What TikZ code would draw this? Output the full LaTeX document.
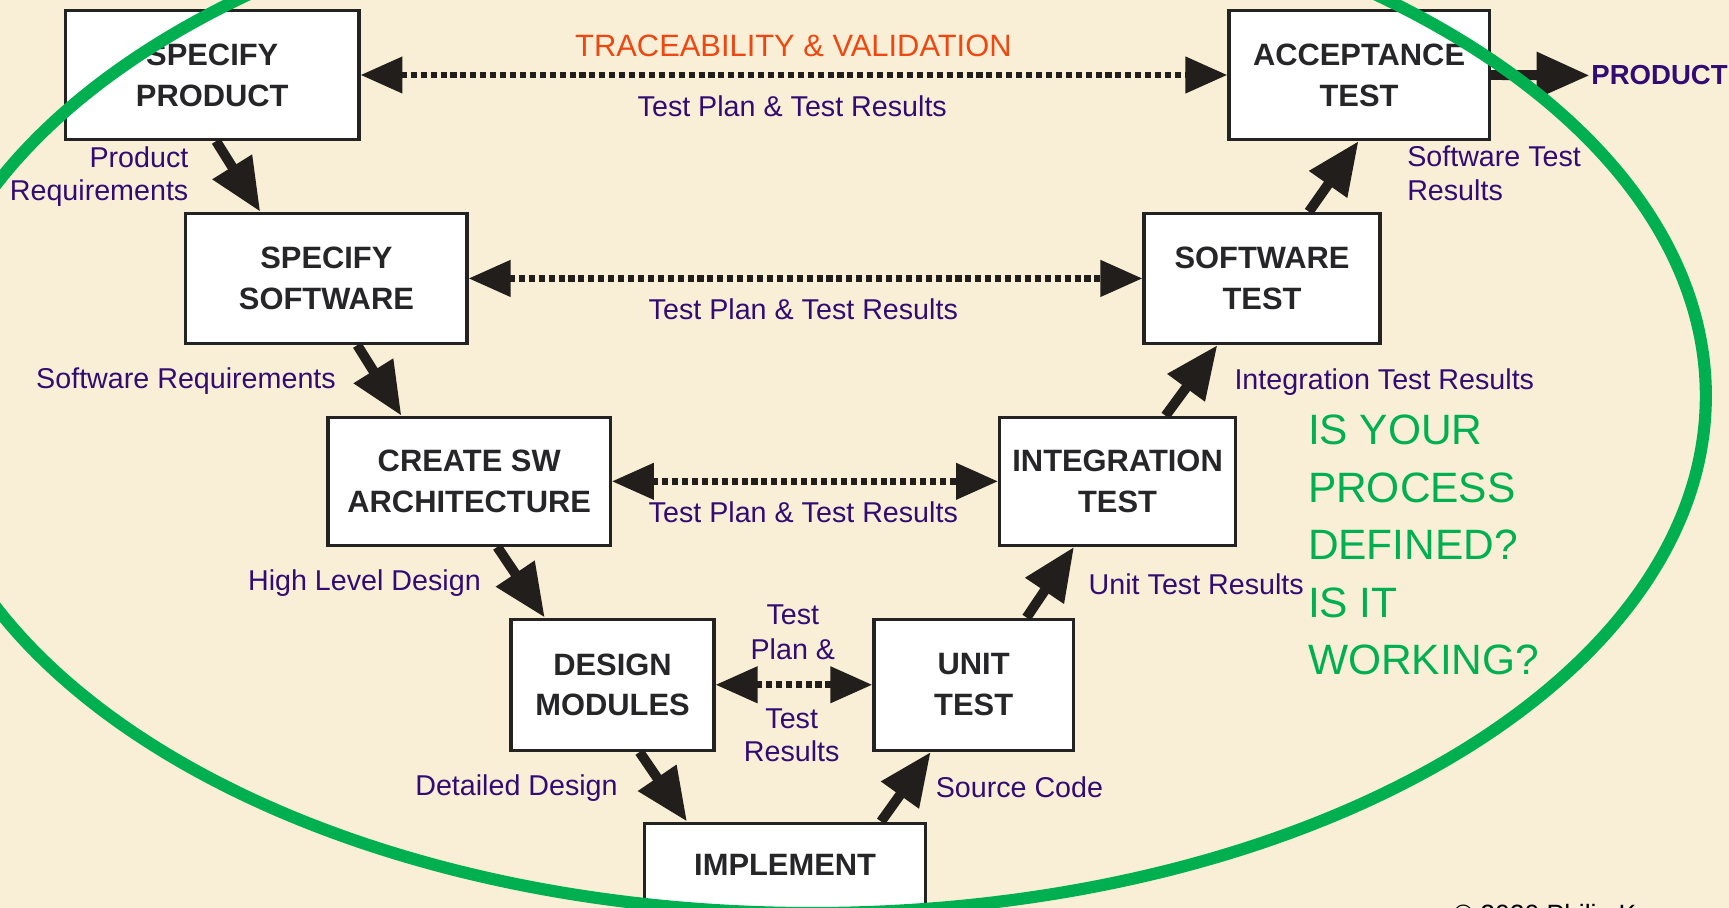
\documentclass[tikz,border=0pt]{standalone}
\usepackage{fontspec}
\setmainfont{Liberation Sans}
\usetikzlibrary{arrows.meta,calc}
\definecolor{bg}{RGB}{249,239,214}
\definecolor{boxline}{RGB}{35,35,35}
\definecolor{boxtxt}{RGB}{38,38,40}
\definecolor{lblpurple}{RGB}{50,12,115}
\definecolor{traceorange}{RGB}{238,72,18}
\definecolor{vgreen}{RGB}{0,176,80}
\definecolor{arrowblk}{RGB}{33,30,28}
\tikzset{
  box/.style={draw=boxline, line width=3pt, fill=white, inner sep=0pt, align=center,
    text=boxtxt, font=\fontsize{28}{37}\selectfont\bfseries},
  boxtext/.style={inner sep=0pt, text=boxtxt, font=\fontsize{28}{37}\selectfont\bfseries},
  lbl/.style={inner sep=0pt, text=lblpurple, font=\fontsize{26}{30}\selectfont},
  bigq/.style={inner sep=0pt, text=vgreen, font=\fontsize{38.5}{52}\selectfont, anchor=base west},
  flow/.style={draw=arrowblk, line width=9pt, -{Triangle[length=48pt,width=40pt]}},
  trace/.style={draw=arrowblk, line width=6pt, dash pattern=on 5.5pt off 3.5pt,
    {Triangle[length=38pt,width=32pt]}-{Triangle[length=38pt,width=32pt]}},
}
\begin{document}
\begin{tikzpicture}[x=1pt,y=-1pt]
\useasboundingbox (0,0) rectangle (1568,823);
\clip (0,0) rectangle (1568,823);
\fill[bg] (0,0) rectangle (1568,823);

% boxes
\node[box, minimum width=266, minimum height=117] (sp) at (192.5,68) {SPECIFY\\PRODUCT};
\node[box, minimum width=255, minimum height=118] (ss) at (296,252.5) {SPECIFY\\SOFTWARE};
\node[box, minimum width=256, minimum height=116] (ca) at (425.5,436.5) {CREATE SW\\ARCHITECTURE};
\node[box, minimum width=184, minimum height=119] (dm) at (555.5,621) {DESIGN\\MODULES};
\node[box, minimum width=255, minimum height=117] (im) at (712,805) {};
\node[boxtext] (imt) at (712,784) {IMPLEMENT};
\node[box, minimum width=181, minimum height=119] (ut) at (883,621) {UNIT\\TEST};
\node[box, minimum width=214, minimum height=116] (it) at (1013.5,436.5) {INTEGRATION\\TEST};
\node[box, minimum width=214, minimum height=118] (st) at (1144.5,252.5) {SOFTWARE\\TEST};
\node[box, minimum width=236, minimum height=117] (at) at (1232.5,68) {ACCEPTANCE\\TEST};

\node[inner sep=1.5pt, anchor=base west, text=lblpurple, font=\fontsize{25}{30}\selectfont\bfseries] (prod) at (1441.5,77) {PRODUCT};

% flow arrows
\draw[flow] ([xshift=3.5pt]sp.south) -- ([xshift=-60pt]ss.north);
\draw[flow] ([xshift=28pt]ss.south) -- ([xshift=-61.5pt]ca.north);
\draw[flow] ([xshift=25.5pt]ca.south) -- ([xshift=-61.5pt]dm.north);
\draw[flow] ([xshift=24.5pt]dm.south) -- ([xshift=-89pt]im.north);
\draw[flow] ([xshift=87pt]im.north) -- ([xshift=-39pt]ut.south);
\draw[flow] ([xshift=48pt]ut.north) -- ([xshift=-39.5pt]it.south);
\draw[flow] ([xshift=43.5pt]it.north) -- ([xshift=-40.5pt]st.south);
\draw[flow] ([xshift=42.5pt]st.north) -- ([xshift=-0.5pt]at.south);
\draw[flow] (at.east) -- (prod.west);

% traceability arrows
\draw[trace] (sp.east) -- (at.west);
\draw[trace] (ss.east) -- (st.west);
\draw[trace] (ca.east) -- (it.west);
\draw[trace] (dm.east) -- (ut.west);

% labels
\node[lbl, anchor=base, text=traceorange, font=\fontsize{28}{30}\selectfont] (trc) at (719.5,50.8) {TRACEABILITY \& VALIDATION};
\node[lbl, anchor=base] (tp1) at (718.5,105.5) {Test Plan \& Test Results};
\node[lbl, anchor=base] (tp2) at (728.5,290) {Test Plan \& Test Results};
\node[lbl, anchor=base] (tp3) at (728.5,473.5) {Test Plan \& Test Results};
\node[lbl, anchor=base] (tp4a) at (719,566) {Test};
\node[lbl, anchor=base] (tp4b) at (719,598) {Plan \&};
\node[lbl, anchor=base] (tp4c) at (718,660.5) {Test};
\node[lbl, anchor=base] (tp4d) at (718,690.7) {Results};

\node[lbl, anchor=base east] (pr1) at (171,152) {Product};
\node[lbl, anchor=base east] (pr2) at (171,182) {Requirements};
\node[lbl, anchor=base] (swr) at (168.7,352) {Software Requirements};
\node[lbl, anchor=base] (hld) at (330.5,535.7) {High Level Design};
\node[lbl, anchor=base] (dd) at (468.4,721) {Detailed Design};
\node[lbl, anchor=base] (sc) at (924.5,723) {Source Code};
\node[lbl, anchor=base east] (utr) at (1182.6,538.7) {Unit Test Results};
\node[lbl, anchor=base] (itr) at (1255.4,352.8) {Integration Test Results};
\node[lbl, anchor=base west] (str1) at (1276,151) {Software Test};
\node[lbl, anchor=base west] (str2) at (1276,181.4) {Results};

\node[bigq] (q1) at (1186,402.7) {IS YOUR};
\node[bigq] (q2) at (1186,455.9) {PROCESS};
\node[bigq] (q3) at (1186,507.8) {DEFINED?};
\node[bigq] (q4) at (1186,559.8) {IS IT};
\node[bigq] (q5) at (1186,611.5) {WORKING?};

\node[inner sep=0pt, anchor=base west, text=black, font=\fontsize{24}{28}\selectfont] (copy) at (1318,837.5) {© 2020 Philip Koopman};

% green ellipse
\draw[vgreen, line width=11pt] (736.4,359) ellipse [x radius=810.6, y radius=469];
\end{tikzpicture}
\end{document}
